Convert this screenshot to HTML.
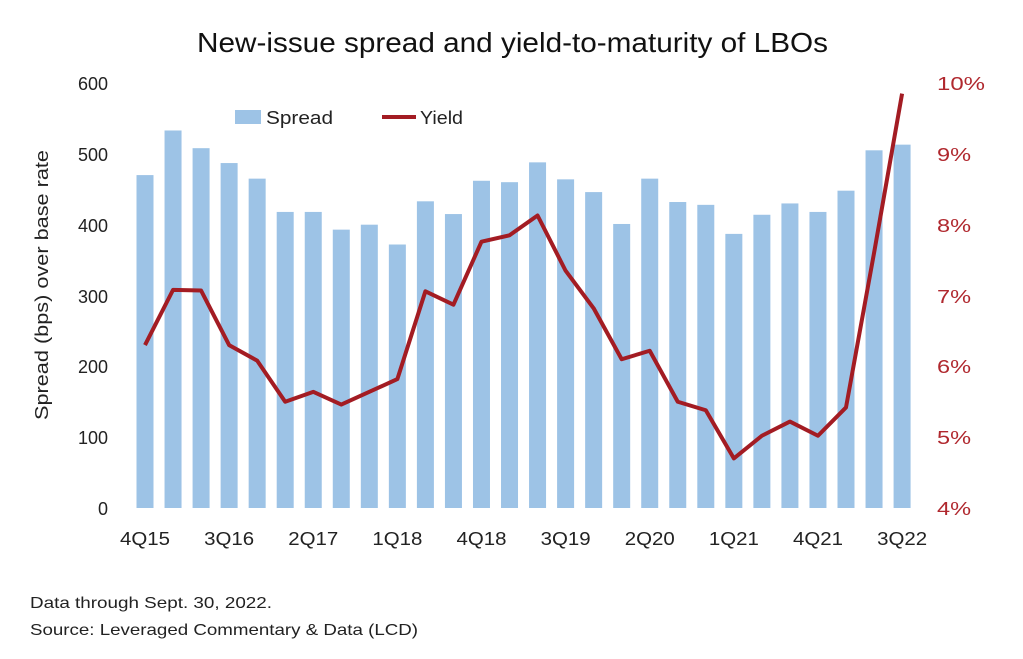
<!DOCTYPE html>
<html><head><meta charset="utf-8"><style>
body{margin:0;background:#fff;}
svg text{font-family:"Liberation Sans",sans-serif;}
</style></head><body>
<svg width="1023" height="654" xmlns="http://www.w3.org/2000/svg">
<rect width="1023" height="654" fill="#fff"/>
<text x="197" y="52" font-size="28" textLength="631" lengthAdjust="spacingAndGlyphs" fill="#111">New-issue spread and yield-to-maturity of LBOs</text>
<g id="bars" fill="#9dc3e6"></g>
<polyline id="yl" fill="none" stroke="#a31c23" stroke-width="4" stroke-linejoin="round"/>
<g font-size="18" fill="#222" text-anchor="end">
<text x="108" y="90">600</text><text x="108" y="161">500</text><text x="108" y="232">400</text>
<text x="108" y="303">300</text><text x="108" y="373">200</text><text x="108" y="444">100</text><text x="108" y="515">0</text>
</g>
<g font-size="18" fill="#b0282e" text-anchor="start">
<text x="937" y="90" textLength="48" lengthAdjust="spacingAndGlyphs">10%</text><text x="937" y="161" textLength="34" lengthAdjust="spacingAndGlyphs">9%</text><text x="937" y="232" textLength="34" lengthAdjust="spacingAndGlyphs">8%</text>
<text x="937" y="303" textLength="34" lengthAdjust="spacingAndGlyphs">7%</text><text x="937" y="373" textLength="34" lengthAdjust="spacingAndGlyphs">6%</text><text x="937" y="444" textLength="34" lengthAdjust="spacingAndGlyphs">5%</text><text x="937" y="515" textLength="34" lengthAdjust="spacingAndGlyphs">4%</text>
</g>
<g font-size="18" fill="#222" id="xl"></g>
<text transform="translate(48,420) rotate(-90)" font-size="18" textLength="270" lengthAdjust="spacingAndGlyphs" fill="#222">Spread (bps) over base rate</text>
<rect x="235" y="110" width="26" height="14" fill="#9dc3e6"/>
<text x="266" y="124" font-size="18" textLength="67" lengthAdjust="spacingAndGlyphs" fill="#222">Spread</text>
<line x1="382" y1="117" x2="416" y2="117" stroke="#a31c23" stroke-width="4"/>
<text x="420" y="124" font-size="18" textLength="43" lengthAdjust="spacingAndGlyphs" fill="#222">Yield</text>
<text x="30" y="608" font-size="16" textLength="242" lengthAdjust="spacingAndGlyphs" fill="#222">Data through Sept. 30, 2022.</text>
<text x="30" y="635" font-size="16" textLength="388" lengthAdjust="spacingAndGlyphs" fill="#222">Source: Leveraged Commentary &amp; Data (LCD)</text>
<script>
var s=[470,533,508,487,465,418,418,393,400,372,433,415,462,460,488,464,446,401,465,432,428,387,414,430,418,448,505,513];
var y=[6.3,7.08,7.07,6.3,6.08,5.5,5.64,5.46,5.64,5.82,7.06,6.87,7.76,7.85,8.13,7.35,6.82,6.1,6.22,5.5,5.38,4.7,5.02,5.22,5.02,5.42,7.6,9.85];
var ns="http://www.w3.org/2000/svg",g=document.getElementById("bars"),pts=[];
for(var i=0;i<28;i++){var cx=145+i*28.04,h=s[i]*0.7083;
var r=document.createElementNS(ns,"rect");r.setAttribute("x",cx-8.5);r.setAttribute("y",508-h);r.setAttribute("width",17);r.setAttribute("height",h);g.appendChild(r);
pts.push(cx+","+(508-(y[i]-4)*70.83));}
document.getElementById("yl").setAttribute("points",pts.join(" "));
var L=["4Q15","3Q16","2Q17","1Q18","4Q18","3Q19","2Q20","1Q21","4Q21","3Q22"],xl=document.getElementById("xl");
for(var j=0;j<10;j++){var t=document.createElementNS(ns,"text");t.setAttribute("x",145+j*3*28.04-25);t.setAttribute("y",545);t.setAttribute("textLength","50");t.setAttribute("lengthAdjust","spacingAndGlyphs");t.textContent=L[j];xl.appendChild(t);}
</script>
</svg>
</body></html>
